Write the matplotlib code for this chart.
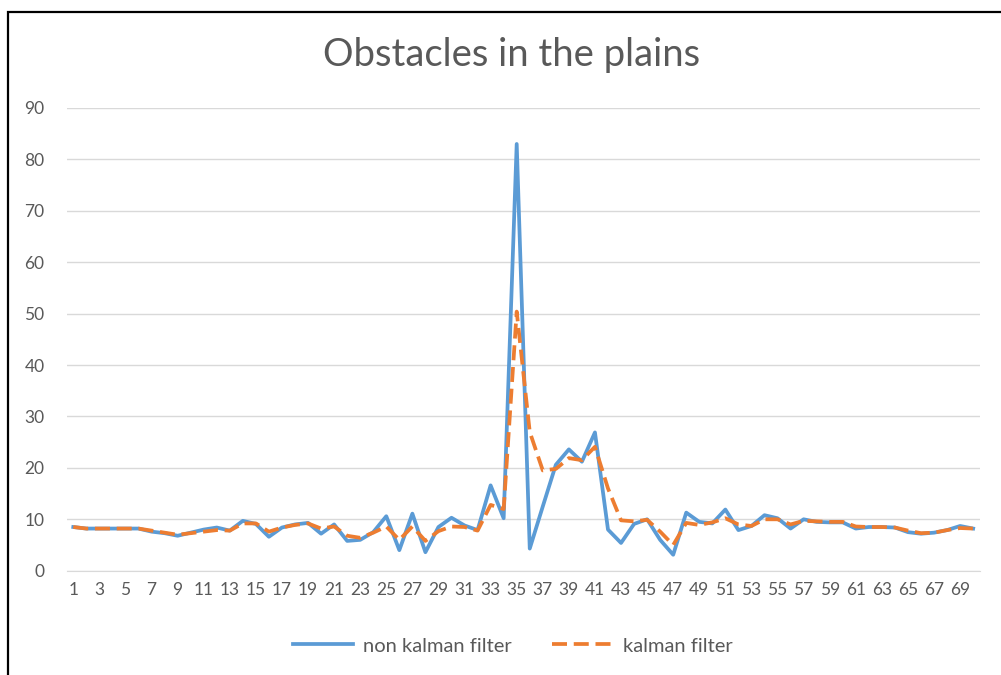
import numpy as np
import matplotlib
matplotlib.use("Agg")
import matplotlib.pyplot as plt
from matplotlib.patches import Rectangle

# measurements, samples 1..70
samples = list(range(1, 71))
non_kalman = [8.5, 8.2, 8.2, 8.2, 8.2, 8.2, 7.6, 7.3, 6.8, 7.4,
              8.0, 8.4, 7.8, 9.7, 9.1, 6.6, 8.4, 9.0, 9.3, 7.2,
              9.0, 5.8, 6.0, 7.5, 10.6, 4.0, 11.1, 3.6, 8.5, 10.3,
              8.8, 7.9, 16.6, 10.2, 83.0, 4.3, 12.5, 20.6, 23.6, 21.2,
              26.9, 8.0, 5.4, 9.1, 10.0, 6.0, 3.1, 11.3, 9.5, 9.2,
              11.9, 7.9, 8.7, 10.8, 10.2, 8.2, 10.0, 9.5, 9.4, 9.4,
              8.2, 8.5, 8.5, 8.4, 7.5, 7.2, 7.4, 7.9, 8.7, 8.2]
kalman = [8.5, 8.2, 8.2, 8.2, 8.2, 8.2, 7.8, 7.4, 7.0, 7.3,
          7.6, 7.9, 7.8, 9.2, 9.2, 7.6, 8.4, 8.9, 9.2, 8.2,
          8.6, 6.8, 6.4, 7.4, 8.6, 6.0, 8.6, 5.8, 7.7, 8.6,
          8.5, 7.8, 12.8, 12.0, 50.4, 27.0, 19.5, 19.8, 21.9, 21.5,
          24.1, 16.0, 9.8, 9.6, 9.9, 7.6, 5.0, 9.3, 8.9, 9.4,
          10.2, 9.0, 8.7, 10.0, 10.0, 9.0, 9.7, 9.6, 9.5, 9.5,
          8.6, 8.5, 8.5, 8.4, 7.8, 7.3, 7.4, 7.9, 8.3, 8.2]
x_labels = [str(s) if s % 2 == 1 else "" for s in samples]

plt.rcParams['font.family'] = ['Lato', 'DejaVu Sans']
grey = "#595959"

fig = plt.figure(figsize=(10.01, 6.75), dpi=100)
ax = fig.add_axes([0.0667, 0.1545, 0.912, 0.6855])

ax.plot(samples, non_kalman, color="#5b9bd5", lw=2.7, label="non kalman filter",
        solid_joinstyle="round")
ax.plot(samples, kalman, color="#ed7d31", lw=2.7, dashes=(4.0, 1.8),
        label="kalman filter")

ax.set_xlim(0.5, 70.5)
ax.set_ylim(0, 90)
ax.set_yticks(np.arange(0, 91, 10))
ax.set_xticks(samples)
ax.set_xticklabels(x_labels)
ax.grid(axis="y", color="#d9d9d9", lw=1)
ax.set_axisbelow(True)
for side in ["top", "right", "left"]:
    ax.spines[side].set_visible(False)
ax.spines["bottom"].set_color("#d9d9d9")
ax.tick_params(axis="both", length=0, labelsize=12.5, labelcolor=grey)
ax.tick_params(axis="y", pad=16)
ax.tick_params(axis="x", pad=8)

fig.text(0.511, 0.918, "Obstacles in the plains", ha="center", va="center",
         fontsize=27.5, color=grey, fontweight="normal")

leg = ax.legend(loc="center", bbox_to_anchor=(0.512, 0.043), bbox_transform=fig.transFigure,
                ncol=2, frameon=False, fontsize=14.5, handlelength=3.0,
                columnspacing=2.0, handletextpad=0.5)
for t in leg.get_texts():
    t.set_color(grey)

# outer frame
fig.patches.append(Rectangle((8 / 1001, -0.05), 1.1, 1.05 - 12 / 675, transform=fig.transFigure,
                             fill=False, edgecolor="black", lw=1.6))

fig.savefig("out.png", dpi=100)
